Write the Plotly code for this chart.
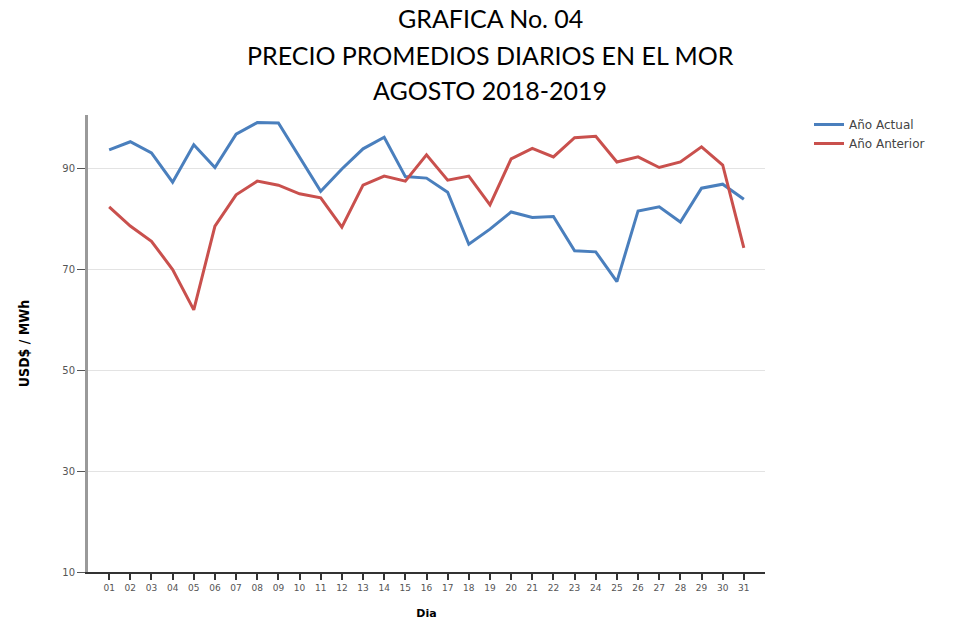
import plotly.graph_objects as go

dias = list(range(1, 32))
tick_labels = [f"{d:02d}" for d in dias]
anio_actual = [93.6, 95.2, 93.0, 87.2, 94.6, 90.1, 96.7, 99.0, 98.9, 92.2,
               85.4, 89.8, 93.8, 96.1, 88.3, 88.0, 85.2, 74.9, 77.9, 81.3,
               80.2, 80.4, 73.6, 73.4, 67.5, 81.5, 82.3, 79.3, 86.0, 86.8, 83.8]
anio_anterior = [82.3, 78.5, 75.5, 69.9, 61.9, 78.5, 84.7, 87.4, 86.6, 84.9,
                 84.1, 78.3, 86.6, 88.4, 87.4, 92.6, 87.6, 88.4, 82.7, 91.8,
                 93.9, 92.2, 96.0, 96.3, 91.2, 92.2, 90.1, 91.2, 94.2, 90.6, 74.2]
y_ticks = [10, 30, 50, 70, 90]
title_lines = ["GRAFICA No. 04", "PRECIO PROMEDIOS DIARIOS EN EL MOR", "AGOSTO 2018-2019"]

W, H = 955, 622
L, R, T, B = 88, 190, 115, 50
ph = H - T - B
pw = W - L - R

fig = go.Figure()
fig.add_trace(go.Scatter(x=dias, y=anio_actual, mode="lines", name="Año Actual",
                         line=dict(color="#4a7fbd", width=3)))
fig.add_trace(go.Scatter(x=dias, y=anio_anterior, mode="lines", name="Año Anterior",
                         line=dict(color="#c9504d", width=3)))

for i, (txt, py) in enumerate(zip(title_lines, [18, 55, 90])):
    fig.add_annotation(text=txt, xref="paper", yref="paper",
                       x=(490 - L) / pw, y=(H - B - py) / ph,
                       xanchor="center", yanchor="middle", showarrow=False,
                       font=dict(family="Lato, Open Sans, sans-serif", size=25, color="black"))

fig.update_layout(
    width=W, height=H,
    paper_bgcolor="white", plot_bgcolor="white",
    margin=dict(l=L, r=R, t=T, b=B, autoexpand=False),
    legend=dict(x=(809 - L) / pw, y=(H - B - 110) / ph, xanchor="left", yanchor="top",
                font=dict(family="DejaVu Sans, Verdana, sans-serif", size=12, color="#444"),
                tracegroupgap=0, itemwidth=30, bgcolor="rgba(0,0,0,0)"),
    showlegend=True,
)
fig.update_xaxes(
    range=[0, 32], tickmode="array", tickvals=dias, ticktext=tick_labels,
    showgrid=False, zeroline=False, automargin=False,
    showline=True, linecolor="#333", linewidth=1.5,
    ticks="outside", ticklen=6, tickcolor="#333", tickwidth=1.5,
    tickfont=dict(family="DejaVu Sans, Verdana, sans-serif", size=9, color="#555"),
    title=dict(text="<b>Dia</b>", font=dict(family="DejaVu Sans, sans-serif", size=11, color="black"), standoff=18),
)
fig.update_yaxes(
    range=[10, 100.5], tickmode="array", tickvals=y_ticks,
    showgrid=True, gridcolor="#e3e3e3", gridwidth=1, zeroline=False, automargin=False,
    showline=True, linecolor="#9a9a9a", linewidth=3,
    ticks="outside", ticklen=8, tickcolor="#555", tickwidth=1,
    tickfont=dict(family="DejaVu Sans, Verdana, sans-serif", size=10, color="#555"),
    title=dict(text="<b>USD$ / MWh</b>", font=dict(family="DejaVu Sans Condensed, DejaVu Sans, sans-serif", size=14, color="black"), standoff=30),
)

fig.write_html("out.html", config={"displayModeBar": False},
               post_script="document.body.style.margin='0px';")
